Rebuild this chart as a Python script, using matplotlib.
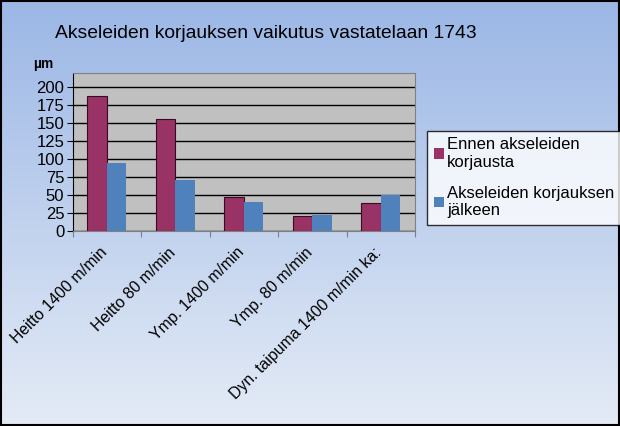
import matplotlib
matplotlib.use("Agg")
import matplotlib.pyplot as plt
import numpy as np
from matplotlib.patches import Rectangle
from matplotlib.transforms import ScaledTranslation

plt.rcParams['font.family'] = ['Liberation Sans', 'DejaVu Sans']

categories = ["Heitto 1400 m/min", "Heitto 80 m/min", "Ymp. 1400 m/min",
              "Ymp. 80 m/min", "Dyn. taipuma 1400 m/min ka:"]
before = [188, 156, 48, 21, 39]
after = [95, 71, 41, 22, 51]
series_names = ["Ennen akseleiden\nkorjausta", "Akseleiden korjauksen\njälkeen"]
yticks = [0, 25, 50, 75, 100, 125, 150, 175, 200]

W, H = 620, 426
fig = plt.figure(figsize=(W / 100, H / 100), dpi=100)

# gradient background
bg = fig.add_axes([0, 0, 1, 1], zorder=-10)
top = np.array([155, 183, 230]) / 255
bot = np.array([228, 235, 246]) / 255
t = np.linspace(0, 1, 256)[:, None]
grad = top[None, :] * (1 - t) + bot[None, :] * t
bg.imshow(grad[:, None, :], aspect='auto', extent=[0, 1, 0, 1])
bg.add_patch(Rectangle((0.001, 0.002), 0.997, 0.995, fill=False, ec='black', lw=1.5,
                       transform=bg.transAxes))
bg.set_axis_off()

# plot area in pixels: x 72.7..415, y 73.3..231.3
x0, x1, y0, y1 = 72.7, 415, 73.3, 231.3
ax = fig.add_axes([x0 / W, 1 - y1 / H, (x1 - x0) / W, (y1 - y0) / H])
ax.set_facecolor('#c0c0c0')

n = len(categories)
x = np.arange(n)
bw = 0.285
ax.bar(x - bw / 2, before, bw, color='#993366', edgecolor='#3a0a20', lw=0.8,
       label=series_names[0], zorder=3)
ax.bar(x + bw / 2, after, bw, color='#4f81bd', edgecolor='none',
       label=series_names[1], zorder=3)

ax.set_xlim(-0.5, n - 0.5)
ax.set_ylim(0, 219)
ax.set_yticks(yticks)
ax.set_yticklabels([str(v) for v in yticks], fontsize=12)
ax.yaxis.grid(True, color='black', lw=1, zorder=1)
ax.set_axisbelow(True)
ax.set_xticks(np.arange(n + 1) - 0.5)
ax.set_xticklabels([])
ax.tick_params(axis='x', which='major', length=4, color='#808080', direction='out')
ax.tick_params(axis='y', length=4, direction='out', pad=2)
for s in ['top', 'right']:
    ax.spines[s].set_color('#808080')
ax.spines['left'].set_color('black')
ax.spines['bottom'].set_color('#808080')

off = ScaledTranslation(1 / 100, -22 / 100, fig.dpi_scale_trans)
for i, c in enumerate(categories):
    ax.text(x[i], 0, c, transform=ax.get_xaxis_transform() + off,
            rotation=45, ha='right', va='baseline', rotation_mode='anchor',
            fontsize=11.4, clip_on=False)

fig.text(55 / W, 1 - 33 / H, "Akseleiden korjauksen vaikutus vastatelaan 1743",
         fontsize=13.85, va='center', ha='left')
fig.text(33 / W, 1 - 64 / H, "µm", fontsize=10, fontweight='bold', va='center', ha='left')

leg = fig.legend(loc='upper left', bbox_to_anchor=(427 / W, 1 - 130.7 / H),
                 fontsize=12, frameon=True, fancybox=False, edgecolor='black',
                 handlelength=0.6, handleheight=0.6, handletextpad=0.2,
                 borderpad=0.4, labelspacing=0.95, borderaxespad=0)
leg.get_frame().set_linewidth(1)
for h in leg.legend_handles:
    h.set_edgecolor('none')

fig.savefig('out.png', dpi=100)
